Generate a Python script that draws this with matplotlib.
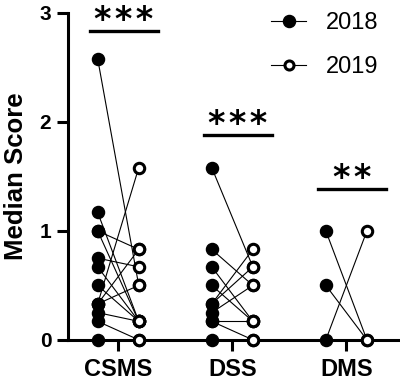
import matplotlib
matplotlib.use("Agg")
import matplotlib.pyplot as plt
from matplotlib.lines import Line2D

plt.rcParams['font.family'] = ['Liberation Sans', 'DejaVu Sans']

groups = ['CSMS', 'DSS', 'DMS']

# paired scores per subject (2018 -> 2019)
csms_2018 = [2.58, 1.17, 1.0, 1.0, 0.75, 0.67, 0.5, 0.33, 0.33, 0.33, 0.25, 0.17, 0.0]
csms_2019 = [0.5, 0.17, 0.83, 0.17, 0.67, 0.17, 0.17, 1.58, 0.83, 0.5, 0.17, 0.0, 0.0]
dss_2018 = [1.58, 0.83, 0.67, 0.5, 0.33, 0.33, 0.25, 0.17, 0.17, 0.0]
dss_2019 = [0.67, 0.5, 0.17, 0.17, 0.83, 0.67, 0.5, 0.17, 0.0, 0.0]
dms_2018 = [1.0, 0.5, 0.0]
dms_2019 = [0.0, 0.0, 1.0]

pairs = [(csms_2018, csms_2019), (dss_2018, dss_2019), (dms_2018, dms_2019)]
stars = ['***', '***', '**']
bar_heights = [2.83, 1.88, 1.38]

fig = plt.figure(figsize=(4, 3.81), dpi=100)
ax = fig.add_axes([0.17, 0.108, 0.83, 0.858])

off = 0.18
for i, (a, b) in enumerate(pairs):
    for y0, y1 in zip(a, b):
        ax.plot([i - off, i + off], [y0, y1], color='black', lw=0.8, zorder=1)
    ax.plot([i - off] * len(a), a, 'o', color='black', ms=8.7, zorder=3, clip_on=False)
    ax.plot([i + off] * len(b), b, 'o', mfc='white', mec='black', mew=2.2, ms=7.5,
            zorder=3, clip_on=False)
    # significance bar + stars
    c = i + 0.05
    ax.plot([c - 0.295, c + 0.295], [bar_heights[i]] * 2, color='black', lw=2.4)
    ax.text(c, bar_heights[i] + 0.01, '\u200a'.join(stars[i]), ha='center', va='baseline',
            fontsize=24, fontweight='bold', family='DejaVu Sans')

ax.set_xlim(-0.44, 2.47)
ax.set_ylim(0, 3)
ax.set_xticks(range(len(groups)))
ax.set_xticklabels(groups, fontsize=17, fontweight='bold')
ax.set_yticks([0, 1, 2, 3])
ax.set_yticklabels(['0', '1', '2', '3'], fontsize=15, fontweight='bold')
ax.set_ylabel('Median Score', fontsize=18.5, fontweight='bold', labelpad=8)

for s in ['top', 'right']:
    ax.spines[s].set_visible(False)
for s in ['left', 'bottom']:
    ax.spines[s].set_linewidth(2.2)
ax.tick_params(width=2.2, length=8)
ax.tick_params(axis='x', pad=5)
ax.tick_params(axis='y', pad=4)

handles = [
    Line2D([0], [0], color='black', lw=0.8, marker='o', ms=8.7, mfc='black', mec='black'),
    Line2D([0], [0], color='black', lw=0.8, marker='o', ms=6.5, mfc='white', mec='black', mew=2.2),
]
ax.legend(handles, ['2018', '2019'], loc='upper left', bbox_to_anchor=(259 / 400, 1.0),
          bbox_transform=fig.transFigure, borderpad=0, frameon=False, fontsize=17,
          handlelength=1.5, handletextpad=0.85, labelspacing=0.96)

fig.savefig('out.png', dpi=100)
